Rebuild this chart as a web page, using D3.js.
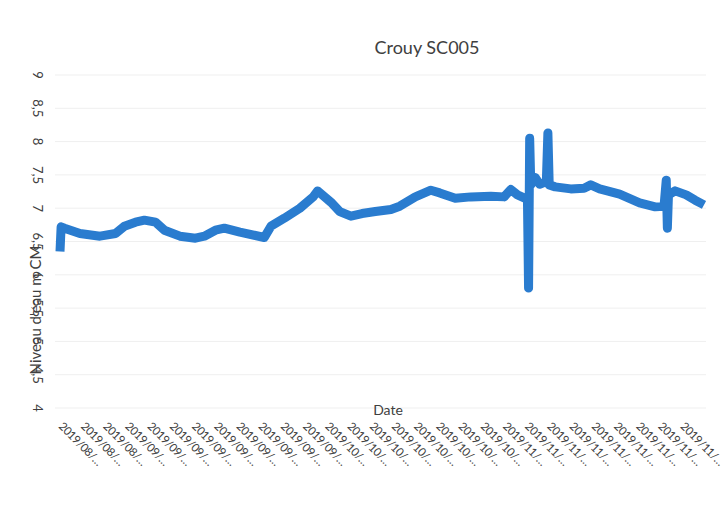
<!DOCTYPE html>
<html><head><meta charset="utf-8">
<script src="https://cdn.jsdelivr.net/npm/d3@7"></script>
<style>body{margin:0;background:#fff;}svg{display:block;font-family:Lato,"Open Sans",sans-serif;}</style>
</head><body>
<script>
// Tick labels of the date axis (truncated as in the picture)
const dateLabels = [
  "2019/08/…","2019/08/…","2019/08/…",
  "2019/09/…","2019/09/…","2019/09/…","2019/09/…","2019/09/…","2019/09/…","2019/09/…","2019/09/…","2019/09/…",
  "2019/10/…","2019/10/…","2019/10/…","2019/10/…","2019/10/…","2019/10/…","2019/10/…","2019/10/…",
  "2019/11/…","2019/11/…","2019/11/…","2019/11/…","2019/11/…","2019/11/…","2019/11/…","2019/11/…","2019/11/…"
];
const yTicks = [4,4.5,5,5.5,6,6.5,7,7.5,8,8.5,9];
// position along the date axis (in label intervals) and water level
const pos = [0,0.05,0.2,0.9,1.8,2.5,2.9,3.4,3.8,4.3,4.7,5.4,6.1,6.5,7.0,7.4,8.1,8.8,9.2,9.5,10.1,10.8,11.4,11.6,12.2,12.6,13.1,13.6,14.2,14.9,15.3,16.0,16.7,17.1,17.8,18.5,19.4,20.0,20.3,20.6,21.0,21.05,21.1,21.15,21.2,21.4,21.6,21.9,21.97,22.03,22.3,23.0,23.6,23.9,24.3,25.2,26.1,26.8,27.2,27.3,27.35,27.4,27.7,28.2,28.6,29.0];
const level = [6.35,6.72,6.70,6.62,6.58,6.62,6.73,6.79,6.82,6.79,6.67,6.58,6.55,6.58,6.67,6.70,6.64,6.59,6.56,6.73,6.85,7.00,7.17,7.26,7.09,6.95,6.88,6.92,6.95,6.98,7.03,7.17,7.27,7.23,7.15,7.17,7.18,7.17,7.28,7.20,7.14,7.12,5.80,8.05,7.35,7.46,7.36,7.40,8.13,7.35,7.32,7.29,7.30,7.35,7.29,7.21,7.08,7.02,7.03,7.42,6.70,7.20,7.26,7.20,7.12,7.05];

const W=727,H=514;
const svg=d3.select("body").append("svg").attr("width",W).attr("height",H);
const x=d3.scaleLinear().domain([0,29]).range([60,704]);
const y=d3.scaleLinear().domain([4,9]).range([408,75]);

// gridlines
svg.append("g").selectAll("line").data(yTicks).join("line")
  .attr("x1",55).attr("x2",706).attr("y1",d=>y(d)).attr("y2",d=>y(d))
  .attr("stroke","#efefef").attr("stroke-width",1);

// y tick labels rotated
const fmt=d=>String(d).replace(".",",");
svg.append("g").selectAll("text").data(yTicks).join("text")
  .attr("transform",d=>`translate(38,${y(d)}) rotate(90)`)
  .attr("text-anchor","middle").attr("dy","0.35em")
  .attr("font-size",13).attr("fill","#404040").text(fmt);

// x tick labels
svg.append("g").selectAll("text").data(dateLabels).join("text")
  .attr("transform",(d,i)=>`translate(${x(i)-2},427) rotate(45)`)
  .attr("text-anchor","start").attr("letter-spacing","-0.4")
  .attr("font-size",11.5).attr("fill","#404040").text(d=>d);

// line
const line=d3.line().x((d,i)=>x(pos[i])).y(d=>y(d));
svg.append("path").datum(level).attr("d",line)
  .attr("fill","none").attr("stroke","#2a7ccf").attr("stroke-width",9)
  .attr("stroke-linejoin","round").attr("stroke-linecap","butt");

// titles
svg.append("text").attr("x",427).attr("y",54).attr("text-anchor","middle")
  .attr("font-size",18).attr("fill","#404040").text("Crouy SC005");
svg.append("text").attr("x",388).attr("y",415).attr("text-anchor","middle")
  .attr("font-size",14).attr("fill","#404040").text("Date");
svg.append("text").attr("transform","translate(36,310) rotate(-90)")
  .attr("text-anchor","middle").attr("dy","0.35em")
  .attr("font-size",15).attr("fill","#404040").text("Niveau d'eau m CM");
</script>
</body></html>
